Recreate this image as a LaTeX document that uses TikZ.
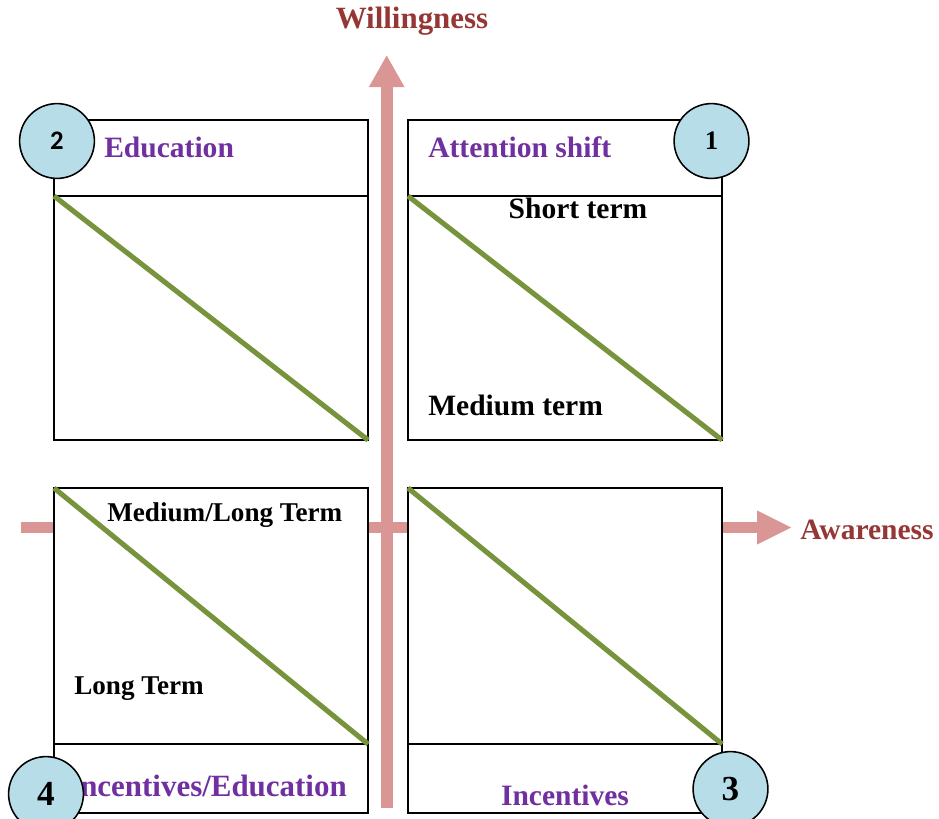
\documentclass[tikz,border=0pt]{standalone}
\usepackage{fontspec}
\setmainfont{Liberation Serif}
\newfontfamily\badgefont{Carlito}
\usetikzlibrary{arrows.meta,shapes.geometric,positioning}
\definecolor{axispink}{RGB}{217,150,148}
\definecolor{axisred}{RGB}{149,55,53}
\definecolor{labelpurple}{RGB}{112,48,160}
\definecolor{diaggreen}{RGB}{119,147,60}
\definecolor{badgeblue}{RGB}{183,222,232}

\begin{document}
\begin{tikzpicture}[x=0.025cm, y=-0.025cm,
    font=\fontsize{21}{24}\selectfont\bfseries,
    quadbox/.style={draw=black, fill=white, line width=1.1pt,
                    inner sep=0pt, outer sep=0pt, minimum width=7.85cm},
    diag/.style={diaggreen, line width=3.6pt},
    badge/.style={circle, draw=black, fill=badgeblue, line width=1.1pt,
                  minimum size=1.87cm, inner sep=0pt},
    headlabel/.style={labelpurple, inner sep=0pt},
    termlabel/.style={black, inner sep=0pt},
    axislabel/.style={axisred, inner sep=0pt}]

  \useasboundingbox (0,0) rectangle (939,818);

  % ============================================================
  % AXES
  % ============================================================
  \coordinate (xstart) at (21,527.5);
  \coordinate (xend)   at (792,527.5);
  \coordinate (ystart) at (386.7,808);
  \coordinate (yend)   at (386.7,55);

  % horizontal axis runs behind the quadrants
  \draw[axispink, line width=0.28cm,
        -{Triangle[length=0.875cm, width=0.78cm]}] (xstart) -- (xend);

  \node[axislabel, anchor=west] (awareness) at (800,530) {Awareness};
  \node[axislabel, font=\fontsize{22}{24}\selectfont\bfseries]
    (willingness) at (412,21) {Willingness};

  % ============================================================
  % QUADRANTS
  % ============================================================
  % top left: 2
  \node[quadbox, minimum height=6.1cm, anchor=north west]
    (q2body) at (54,196) {};
  \node[quadbox, minimum height=1.9cm, anchor=south west]
    (q2head) at (q2body.north west) {};
  \draw[diag] (q2body.north west) -- (q2body.south east);

  % top right: 1
  \node[quadbox, minimum height=6.1cm, anchor=north west]
    (q1body) at (408,196) {};
  \node[quadbox, minimum height=1.9cm, anchor=south west]
    (q1head) at (q1body.north west) {};
  \draw[diag] (q1body.north west) -- (q1body.south east);

  % bottom left: 4
  \node[quadbox, minimum height=6.4cm, anchor=north west]
    (q4body) at (54,488) {};
  \node[quadbox, minimum height=1.725cm, anchor=north west]
    (q4foot) at (q4body.south west) {};
  \draw[diag] (q4body.north west) -- (q4body.south east);

  % bottom right: 3
  \node[quadbox, minimum height=6.4cm, anchor=north west]
    (q3body) at (408,488) {};
  \node[quadbox, minimum height=1.725cm, anchor=north west]
    (q3foot) at (q3body.south west) {};
  \draw[diag] (q3body.north west) -- (q3body.south east);

  % vertical axis sits in the gap between the quadrants
  \draw[axispink, line width=0.3cm,
        -{Triangle[length=0.8cm, width=0.83cm]}] (ystart) -- (yend);

  % ============================================================
  % LABELS
  % ============================================================
  \node[headlabel, anchor=west] (education) at (104,147) {Education};
  \node[headlabel, anchor=west] (attention) at (428,147) {Attention shift};
  \node[headlabel, anchor=east, font=\fontsize{22}{24}\selectfont\bfseries]
    (mixed) at (347,786) {Incentives/Education};
  \node[headlabel] (incentives) at (565,795) {Incentives};

  \node[termlabel] (shortterm) at (578,208) {Short term};
  \node[termlabel, anchor=west] (mediumterm) at (428,405) {Medium term};
  \node[termlabel, anchor=west, font=\fontsize{19.3}{22}\selectfont\bfseries]
    (mediumlong) at (107,515) {Medium/Long Term};
  \node[termlabel, anchor=west, font=\fontsize{19.3}{22}\selectfont\bfseries]
    (longterm) at (74,689) {Long Term};

  % numbered badges on the corners
  \node[badge, font=\fontsize{19}{21}\selectfont\badgefont\bfseries]
    (badge2) at (57,141) {2};
  \node[badge, font=\fontsize{19}{21}\selectfont\bfseries]
    (badge1) at (711.5,141) {1};
  \node[badge, font=\fontsize{25}{27}\selectfont\bfseries]
    (badge4) at (46,794) {4};
  \node[badge, font=\fontsize{25}{27}\selectfont\bfseries]
    (badge3) at (730.5,789) {3};

\end{tikzpicture}
\end{document}
